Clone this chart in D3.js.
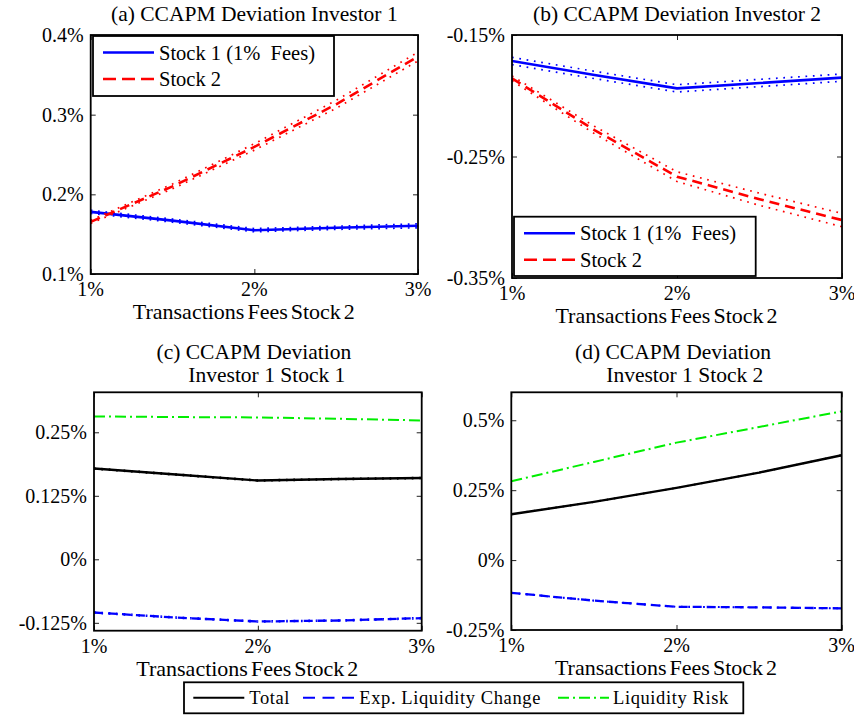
<!DOCTYPE html>
<html>
<head>
<meta charset="utf-8">
<script src="https://cdn.jsdelivr.net/npm/d3@7/dist/d3.min.js"></script>
<style>
  body { margin: 0; background: #fff; }
  svg { display: block; }
  text { font-family: "Liberation Serif", "Times New Roman", serif; fill: #000; }
</style>
</head>
<body>
<svg id="chart" width="854" height="718"></svg>
<script>
// ---------------- DATA ----------------
const fees = [1, 1.5, 2, 2.5, 3];               // Transaction fees stock 2 (%)
const xTickValues = [1, 2, 3];
const xTickLabels = ["1%", "2%", "3%"];

// (a) CCAPM deviation investor 1 (%)
const aStock1 = [0.178, 0.167, 0.155, 0.158, 0.1605];
const aStock1Band = [0.002, 0.002, 0.002, 0.002, 0.0025];
const aStock2 = [0.1655, 0.210, 0.2595, 0.313, 0.373];
const aStock2Band = [0.002, 0.003, 0.004, 0.005, 0.0055];
const aYTicks = [0.1, 0.2, 0.3, 0.4];
const aYTickLabels = ["0.1%", "0.2%", "0.3%", "0.4%"];

// (b) CCAPM deviation investor 2 (%)
const bStock1 = [-0.1714, -0.1829, -0.1939, -0.1895, -0.1851];
const bStock1Band = [0.003, 0.003, 0.003, 0.003, 0.003];
const bStock2 = [-0.1857, -0.2282, -0.2666, -0.2852, -0.3023];
const bStock2Band = [0.002, 0.003, 0.004, 0.005, 0.0055];
const bYTicks = [-0.35, -0.25, -0.15];
const bYTickLabels = ["-0.35%", "-0.25%", "-0.15%"];

// (c) Investor 1 Stock 1 decomposition (%)
const cTotal = [0.1786, 0.1668, 0.155, 0.158, 0.160];
const cExpLiq = [-0.1047, -0.1146, -0.1224, -0.1204, -0.1158];
const cLiqRisk = [0.2812, 0.2800, 0.2792, 0.2765, 0.2733];
const cYTicks = [-0.125, 0, 0.125, 0.25];
const cYTickLabels = ["-0.125%", "0%", "0.125%", "0.25%"];

// (d) Investor 1 Stock 2 decomposition (%)
const dTotal = [0.164, 0.208, 0.258, 0.313, 0.375];
const dExpLiq = [-0.117, -0.145, -0.167, -0.169, -0.1726];
const dLiqRisk = [0.282, 0.351, 0.420, 0.476, 0.532];
const dYTicks = [-0.25, 0, 0.25, 0.5];
const dYTickLabels = ["-0.25%", "0%", "0.25%", "0.5%"];

const legendTopNames = ["Stock 1 (1%\u00a0 Fees)", "Stock 2"];
const legendBottomNames = ["Total", "Exp. Liquidity Change", "Liquidity Risk"];

// ---------------- STYLES ----------------
const BLUE = "#0000ff", RED = "#ff0000", GREEN = "#00ee00", BLACK = "#000000";
const styles = {
  solidBlue: { color: BLUE, width: 2.6, dash: null },
  dashRed:   { color: RED, width: 2.6, dash: "10,6" },
  total:     { color: BLACK, width: 2.4, dash: null },
  expLiq:    { color: BLUE, width: 2.3, dash: "9,5" },
  liqRisk:   { color: GREEN, width: 2.0, dash: "11,4,2,4" }
};

const svg = d3.select("#chart");

function drawPanel(p) {
  const x = d3.scaleLinear().domain([1, 3]).range([p.x0, p.x1]);
  const y = d3.scaleLinear().domain(p.yDomain).range([p.y1, p.y0]);
  const g = svg.append("g");
  const clipId = "clip" + p.id;
  svg.append("clipPath").attr("id", clipId)
    .append("rect").attr("x", p.x0).attr("y", p.y0)
    .attr("width", p.x1 - p.x0).attr("height", p.y1 - p.y0);

  const plot = g.append("g").attr("clip-path", `url(#${clipId})`);
  const line = d3.line().x((d, i) => x(fees[i])).y(d => y(d));

  p.series.forEach(s => {
    if (s.band) {
      [1, -1].forEach(sign => {
        plot.append("path")
          .attr("d", line(s.values.map((v, i) => v + sign * s.band[i])))
          .attr("fill", "none").attr("stroke", s.style.color)
          .attr("stroke-width", s.bandWidth || 1.7)
          .attr("stroke-dasharray", "1.7,5.7");
      });
    }
    plot.append("path")
      .attr("d", line(s.values))
      .attr("fill", "none").attr("stroke", s.style.color)
      .attr("stroke-width", s.style.width)
      .attr("stroke-dasharray", s.style.dash);
  });

  // axes: ticks inside on all four sides
  const tl = 5;
  const axB = d3.axisBottom(x).tickValues(xTickValues).tickSize(-tl).tickFormat("");
  const axT = d3.axisTop(x).tickValues(xTickValues).tickSize(-tl).tickFormat("");
  const axL = d3.axisLeft(y).tickValues(p.yTicks).tickSize(-tl).tickFormat("");
  const axR = d3.axisRight(y).tickValues(p.yTicks).tickSize(-tl).tickFormat("");
  [[axB, `translate(0,${p.y1})`], [axT, `translate(0,${p.y0})`],
   [axL, `translate(${p.x0},0)`], [axR, `translate(${p.x1},0)`]].forEach(([ax, tr]) => {
    const a = g.append("g").attr("transform", tr).call(ax);
    a.select(".domain").remove();
    a.selectAll("line").attr("stroke", "#222").attr("stroke-width", 1);
  });

  // box
  g.append("rect").attr("x", p.x0).attr("y", p.y0)
    .attr("width", p.x1 - p.x0).attr("height", p.y1 - p.y0)
    .attr("fill", "none").attr("stroke", "#000").attr("stroke-width", 1.8);

  // tick labels
  g.selectAll(".xl").data(xTickValues).join("text")
    .attr("x", d => x(d)).attr("y", p.y1 + 22)
    .attr("text-anchor", "middle").attr("font-size", 20)
    .text((d, i) => xTickLabels[i]);
  g.selectAll(".yl").data(p.yTicks).join("text")
    .attr("x", p.x0 - 7).attr("y", d => y(d) + 7)
    .attr("text-anchor", "end").attr("font-size", 20)
    .text((d, i) => p.yTickLabels[i]);

  // x label
  g.append("text").attr("x", (p.x0 + p.x1) / 2 - 10.5).attr("y", p.y1 + 45)
    .attr("text-anchor", "middle").attr("font-size", 22)
    .attr("word-spacing", "-2.5px")
    .text("Transactions Fees Stock 2");

  // title
  p.title.forEach((t, i) => {
    g.append("text").attr("x", (p.x0 + p.x1) / 2 + (p.titleDx ? p.titleDx[i] : 0))
      .attr("y", p.titleY + i * 23)
      .attr("text-anchor", "middle").attr("font-size", 21.5)
      .text(t);
  });

  // in-panel legend
  if (p.legend) {
    const L = p.legend;
    g.append("rect").attr("x", L.x).attr("y", L.y).attr("width", L.w).attr("height", L.h)
      .attr("fill", "#fff").attr("stroke", "#000").attr("stroke-width", 1.8);
    L.items.forEach((it, i) => {
      const yy = L.y + 16.5 + i * 26.5;
      g.append("line").attr("x1", L.x + 10).attr("x2", L.x + 61)
        .attr("y1", yy).attr("y2", yy)
        .attr("stroke", it.style.color).attr("stroke-width", it.style.width)
        .attr("stroke-dasharray", it.style.dash ? "13,6" : null);
      g.append("text").attr("x", L.x + 66).attr("y", yy + 7)
        .attr("font-size", 20.5).text(it.name);
    });
  }
}

drawPanel({
  id: "a", x0: 90.7, x1: 418, y0: 35, y1: 274, yDomain: [0.1, 0.4],
  yTicks: aYTicks, yTickLabels: aYTickLabels,
  title: ["(a) CCAPM Deviation Investor 1"], titleY: 21,
  series: [
    { values: aStock1, band: aStock1Band, style: styles.solidBlue },
    { values: aStock2, band: aStock2Band, style: styles.dashRed }
  ],
  legend: { x: 93, y: 36, w: 241, h: 60,
    items: [{ name: legendTopNames[0], style: styles.solidBlue },
            { name: legendTopNames[1], style: styles.dashRed }] }
});

drawPanel({
  id: "b", x0: 512, x1: 842, y0: 35, y1: 278, yDomain: [-0.35, -0.15],
  yTicks: bYTicks, yTickLabels: bYTickLabels,
  title: ["(b) CCAPM Deviation Investor 2"], titleY: 21,
  series: [
    { values: bStock1, band: bStock1Band, style: styles.solidBlue },
    { values: bStock2, band: bStock2Band, style: styles.dashRed }
  ],
  legend: { x: 514, y: 216.7, w: 241.7, h: 59.3,
    items: [{ name: legendTopNames[0], style: styles.solidBlue },
            { name: legendTopNames[1], style: styles.dashRed }] }
});

const tightBand = [0.0012, 0.0012, 0.0012, 0.0012, 0.0012];

drawPanel({
  id: "c", x0: 94, x1: 421.7, y0: 392.3, y1: 630.7, yDomain: [-0.1405, 0.3287],
  yTicks: cYTicks, yTickLabels: cYTickLabels,
  title: ["(c) CCAPM Deviation", "Investor 1 Stock 1"], titleY: 359, titleDx: [-4, 9],
  series: [
    { values: cLiqRisk, style: styles.liqRisk },
    { values: cTotal, band: tightBand, bandWidth: 1.4, style: styles.total },
    { values: cExpLiq, band: tightBand, bandWidth: 1.4, style: styles.expLiq }
  ]
});

drawPanel({
  id: "d", x0: 511.3, x1: 841.7, y0: 392.3, y1: 630, yDomain: [-0.25, 0.6],
  yTicks: dYTicks, yTickLabels: dYTickLabels,
  title: ["(d) CCAPM Deviation", "Investor 1 Stock 2"], titleY: 359, titleDx: [-3.5, 8.3],
  series: [
    { values: dLiqRisk, style: styles.liqRisk },
    { values: dTotal, band: tightBand, bandWidth: 1.2, style: styles.total },
    { values: dExpLiq, band: tightBand, bandWidth: 1.4, style: styles.expLiq }
  ]
});

// bottom legend
(function () {
  const g = svg.append("g");
  const bx = 184, by = 682.3, bw = 559.3, bh = 31;
  g.append("rect").attr("x", bx).attr("y", by).attr("width", bw).attr("height", bh)
    .attr("fill", "#fff").attr("stroke", "#000").attr("stroke-width", 1.8);
  const items = [
    { name: legendBottomNames[0], style: styles.total, sx: 193.3, tx: 249.3, dash: null },
    { name: legendBottomNames[1], style: styles.expLiq, sx: 303, tx: 359.3, dash: "12,7.5" },
    { name: legendBottomNames[2], style: styles.liqRisk, sx: 558, tx: 613, dash: "11,4,2,4" }
  ];
  const yy = by + bh / 2;
  items.forEach(it => {
    g.append("line").attr("x1", it.sx).attr("x2", it.sx + 51).attr("y1", yy).attr("y2", yy)
      .attr("stroke", it.style.color).attr("stroke-width", 2)
      .attr("stroke-dasharray", it.dash);
    g.append("text").attr("x", it.tx).attr("y", yy + 6)
      .attr("font-size", 18.5).attr("letter-spacing", "0.6px").text(it.name);
  });
})();
</script>
</body>
</html>
